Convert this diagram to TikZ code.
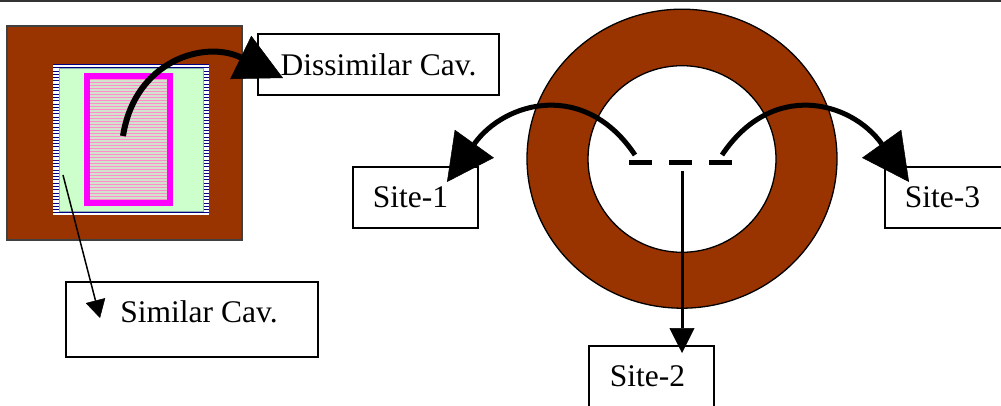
\documentclass[tikz,border=0pt]{standalone}
\usepackage{fontspec}
\setmainfont{Liberation Serif}
\usetikzlibrary{arrows.meta}
\definecolor{rust}{RGB}{153,51,0}
\definecolor{mint}{RGB}{204,255,204}
\definecolor{navyline}{RGB}{0,0,128}
\definecolor{pinkline}{RGB}{255,143,200}
\definecolor{cavfill}{RGB}{210,226,206}
\definecolor{rimline}{RGB}{143,176,176}
\definecolor{cavrim}{RGB}{255,0,255}
\begin{document}
\begin{tikzpicture}[x=1pt,y=-1pt,
  labelbox/.style={draw=black, line width=1.4pt, fill=white, inner sep=0pt,
    minimum height=61pt, font=\fontsize{31.5pt}{36pt}\selectfont},
  bigtip/.style={-{Triangle[length=47pt,width=48pt,line width=0.5pt]}},
  siteline/.style={line width=5pt, bigtip},
  outline/.style={draw=black, line width=1.3pt}]

\clip (0,0) rectangle (1001,406);

% rule along the top edge
\draw[line width=1.6pt, black!80] (0,0.8) -- (1001,0.8);

% mould block with its two cavities
\draw[fill=rust, draw=black!75, line width=1.3pt] (7,26) rectangle (242,240);
\fill[white] (53,64) rectangle (209,215);
\foreach \y in {64.5,67.8,...,214.5}
  \draw[navyline, line width=1pt] (53,\y) -- (209,\y);
\filldraw[fill=mint, draw=rimline, line width=0.8pt] (59,68) rectangle (203,211);
\fill[cavfill] (87,76) rectangle (170,203);
\foreach \y in {79,82,...,200}
  \draw[pinkline, line width=0.9pt] (87,\y) -- (170,\y);
\draw[cavrim, line width=6pt] (87.3,76.3) rectangle (169.7,202.7);

% ring
\fill[rust, even odd rule] (682,158.7) ellipse [x radius=155pt, y radius=149.5pt]
                          (682,159) ellipse [x radius=94pt, y radius=93.3pt];
\draw[outline] (682,158.7) ellipse [x radius=155pt, y radius=149.5pt];
\draw[outline] (682,159) ellipse [x radius=94pt, y radius=93.3pt];

% label boxes
\node[labelbox, minimum width=241pt] (dis) at (378.5,64.5) {Dissimilar Cav.};
\node[labelbox, minimum width=125pt] (s1) at (415.5,197.5) {\hspace*{-10pt}Site-1};
\node[labelbox, minimum width=125pt] (s3) at (947.5,197.5) {\hspace*{-10pt}Site-3};
\node[labelbox, minimum width=125pt] (s2) at (651.5,376.5) {\hspace*{-8pt}Site-2};
\node[labelbox, minimum width=252pt, minimum height=75pt, text depth=16pt]
  (sim) at (192,319.5) {\hspace*{14pt}Similar Cav.};

% connector end points
\coordinate (dstart) at (123,136);
\coordinate (dtip) at (283,78);
\coordinate (sstart) at (63,175);
\coordinate (stip) at (100,318);
\coordinate (lstart) at (635,155);
\coordinate (ltip) at (447,182);
\coordinate (rstart) at (722,155);
\coordinate (rtip) at (909,182);
\coordinate (dashL) at (629,162.5);
\coordinate (dashR) at (732,162.5);
\coordinate (vtop) at (682,171);
\coordinate (vtip) at (682,353);

% connectors
\draw[line width=6pt, bigtip] (dstart) .. controls (135,60) and (205,40) .. (dtip);
\draw[line width=1.5pt, -{Triangle[length=18pt,width=20pt,line width=0.5pt]}] (sstart) -- (stip);
\draw[line width=5pt, dash pattern=on 23pt off 17pt] (dashL) -- (dashR);
\draw[siteline] (lstart) .. controls (585,80) and (505,101) .. (ltip);
\draw[siteline] (rstart) .. controls (772,80) and (851,101) .. (rtip);
\draw[line width=3pt, -{Triangle[length=25pt,width=25pt,line width=0.5pt]}] (vtop) -- (vtip);
\end{tikzpicture}
\end{document}
